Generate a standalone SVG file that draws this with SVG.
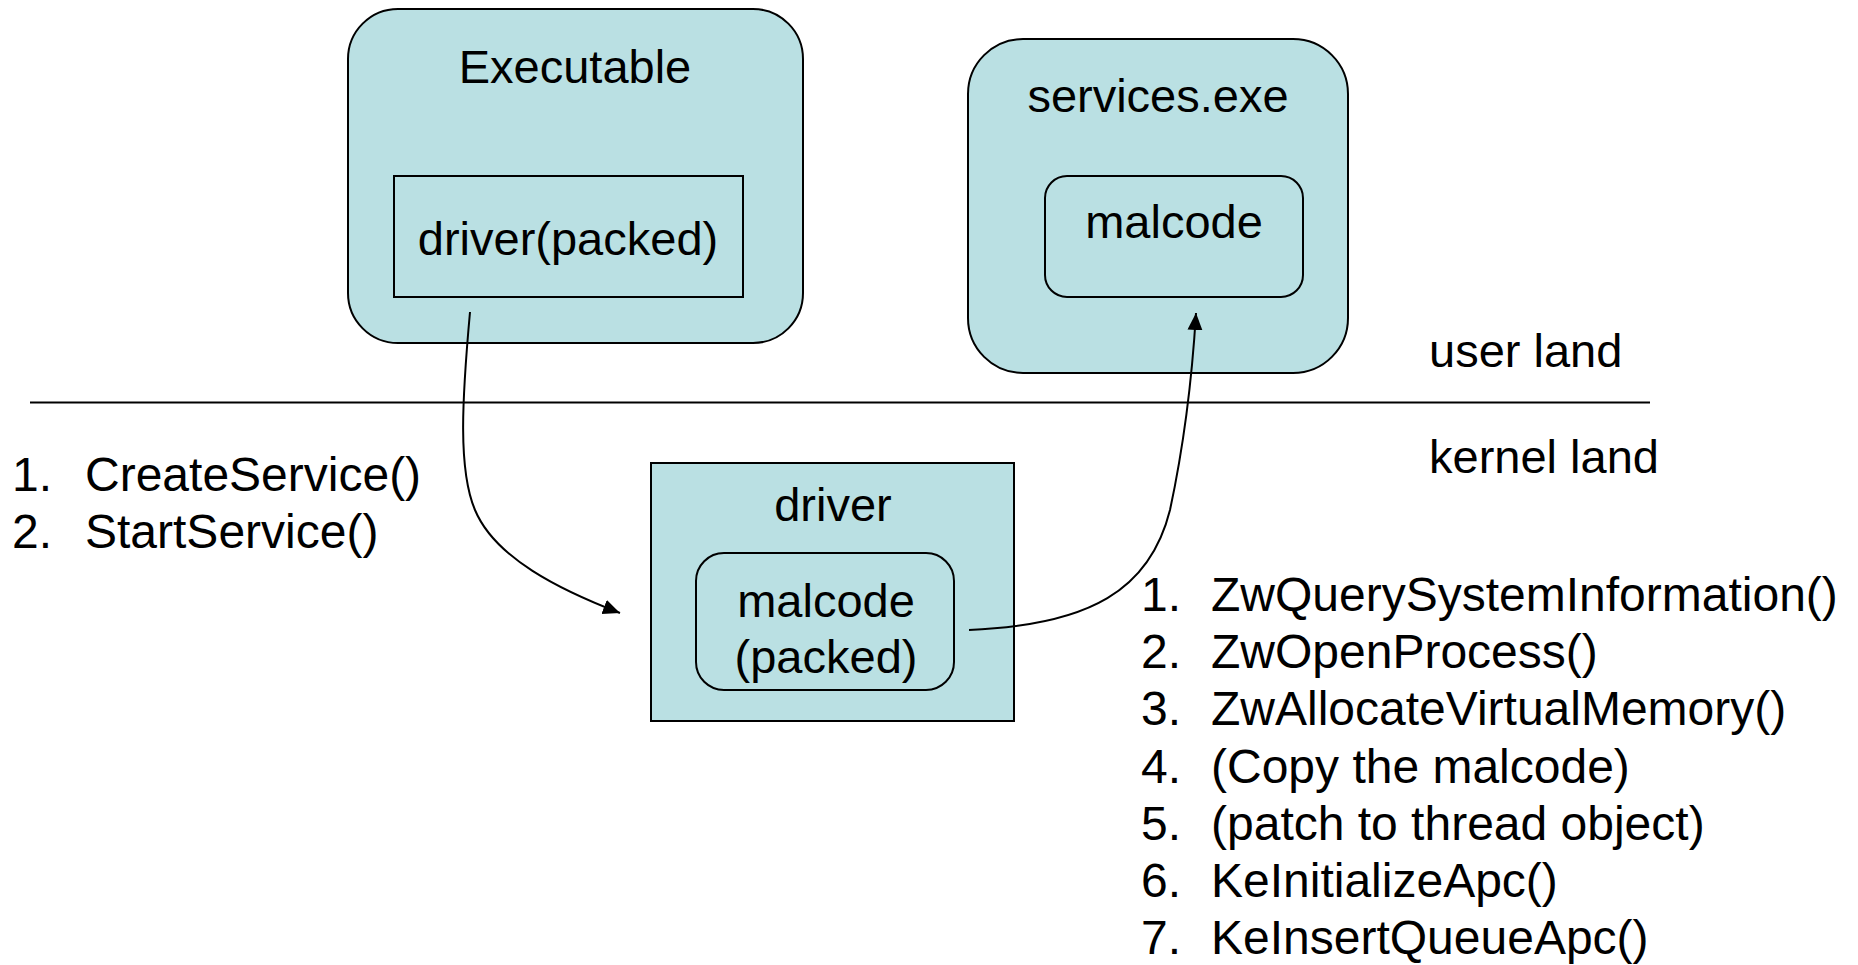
<svg xmlns="http://www.w3.org/2000/svg" width="1858" height="965" viewBox="0 0 1858 965">
<style>
.box{fill:#bae0e3;stroke:#000;stroke-width:2}
.t{font-family:"Liberation Sans",Arial,sans-serif;font-size:47px;fill:#000}
.l{font-size:48px}
.c{text-anchor:middle}
.conn{fill:none;stroke:#000;stroke-width:2}
</style>
<defs>
<marker id="ah" markerUnits="userSpaceOnUse" markerWidth="18" markerHeight="16" refX="17" refY="7.5" orient="auto">
<path d="M0,0 L17,7.5 L0,15 z" fill="#000"/>
</marker>
</defs>
<rect width="1858" height="965" fill="#fff"/>
<g id="executable">
<rect class="box" x="348" y="9" width="455" height="334" rx="50" ry="50"/>
<text class="t c" x="575" y="83">Executable</text>
</g>
<g id="driver-packed">
<rect class="box" x="394" y="176" width="349" height="121"/>
<text class="t c" x="568" y="255">driver(packed)</text>
</g>
<g id="services">
<rect class="box" x="968" y="39" width="380" height="334" rx="55" ry="55"/>
<text class="t c" x="1158" y="112">services.exe</text>
</g>
<g id="malcode-user">
<rect class="box" x="1045" y="176" width="258" height="121" rx="22" ry="22"/>
<text class="t c" x="1174" y="238">malcode</text>
</g>
<g id="driver">
<rect class="box" x="651" y="463" width="363" height="258"/>
<text class="t c" x="833" y="521">driver</text>
</g>
<g id="malcode-packed">
<rect class="box" x="696" y="553" width="258" height="137" rx="28" ry="28"/>
<text class="t c" x="826" y="617">malcode</text>
<text class="t c" x="826" y="673">(packed)</text>
</g>
<g id="divider">
<line x1="30" y1="402.5" x2="1650" y2="402.5" stroke="#000" stroke-width="2"/>
<text class="t" x="1429" y="367">user land</text>
<text class="t" x="1429" y="473">kernel land</text>
</g>
<g id="left-list">
<text class="t l" x="12" y="491">1.</text><text class="t l" x="85" y="491">CreateService()</text>
<text class="t l" x="12" y="548">2.</text><text class="t l" x="85" y="548">StartService()</text>
</g>
<g id="right-list">
<text class="t l" x="1141" y="611">1.</text><text class="t l" x="1211" y="611">ZwQuerySystemInformation()</text>
<text class="t l" x="1141" y="668">2.</text><text class="t l" x="1211" y="668">ZwOpenProcess()</text>
<text class="t l" x="1141" y="725">3.</text><text class="t l" x="1211" y="725">ZwAllocateVirtualMemory()</text>
<text class="t l" x="1141" y="783">4.</text><text class="t l" x="1211" y="783">(Copy the malcode)</text>
<text class="t l" x="1141" y="840">5.</text><text class="t l" x="1211" y="840">(patch to thread object)</text>
<text class="t l" x="1141" y="897">6.</text><text class="t l" x="1211" y="897">KeInitializeApc()</text>
<text class="t l" x="1141" y="954">7.</text><text class="t l" x="1211" y="954">KeInsertQueueApc()</text>
</g>
<g id="connectors">
<path class="conn" d="M470,312 C462,400 458,470 475,510 C495,558 560,590 620,613" marker-end="url(#ah)"/>
<path class="conn" d="M969,630 C1090,625 1150,590 1170,510 C1185,440 1192,380 1196,313" marker-end="url(#ah)"/>
</g>
</svg>
